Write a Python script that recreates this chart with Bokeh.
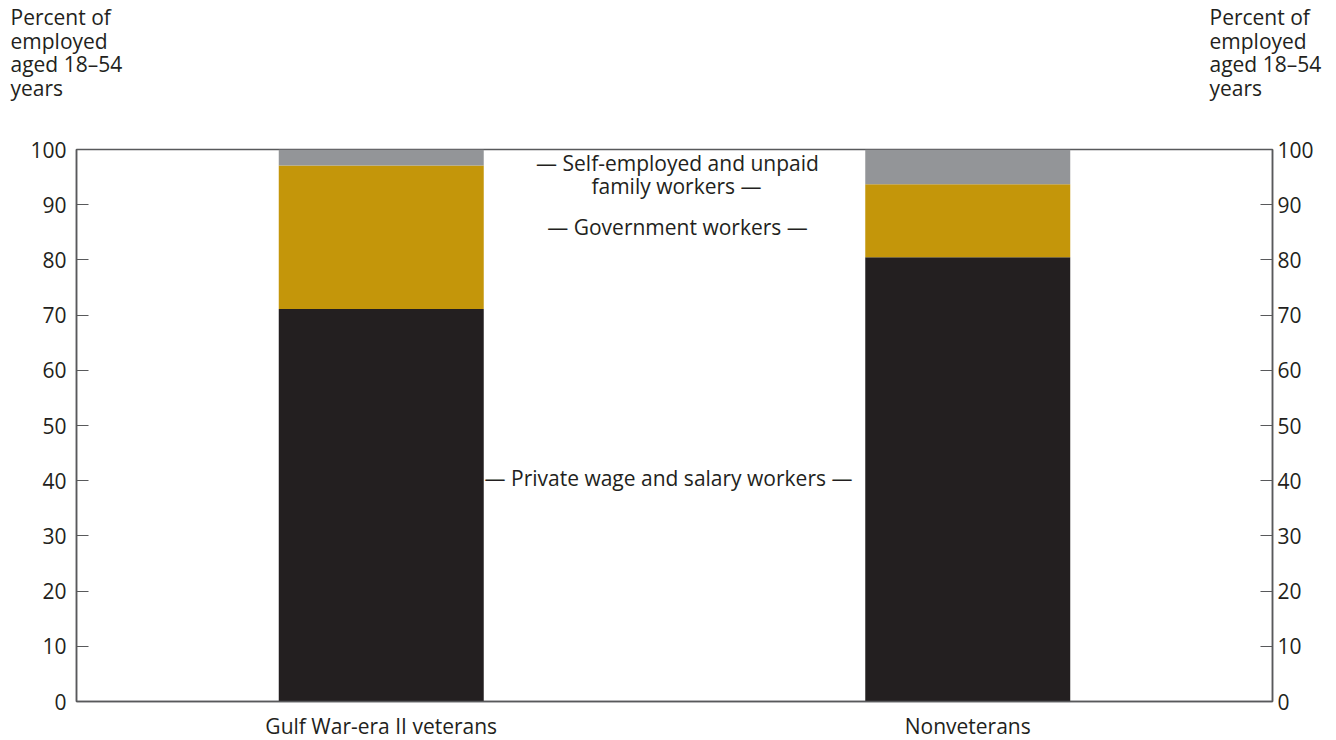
from bokeh.plotting import figure
from bokeh.layouts import column
from bokeh.models import FactorRange, Range1d, LinearAxis, Label, FixedTicker, ColumnDataSource
from bokeh.core.properties import value
from bokeh.embed import file_html
from bokeh.resources import INLINE

groups = ["Gulf War-era II veterans", "Nonveterans"]
private = [71.1, 80.5]
government = [26.0, 13.2]
self_employed = [2.9, 6.3]
y_ticks = [0, 10, 20, 30, 40, 50, 60, 70, 80, 90, 100]
series = ["private", "government", "self_employed"]
colors = ["#231f20", "#c4960a", "#939598"]
title_lines = ["Percent of", "employed", "aged 18\u201354", "years"]

FONT = "Open Sans"
FS = "21px"
TXT = "#231f20"
W = 1336
HEAD_H = 134

# ---- header with the two axis titles ----
head = figure(width=W, height=HEAD_H, x_range=Range1d(0, W), y_range=Range1d(HEAD_H, 0),
              x_axis_type=None, y_axis_type=None, output_backend="svg", toolbar_location=None,
              min_border=0, min_border_left=0, min_border_right=0, min_border_top=0,
              min_border_bottom=0, outline_line_color=None)
if "frame_align" in head.properties():
    head.frame_align = False
head.grid.visible = False
tx, ty, tt = [], [], []
for left in (10, 1209):
    for i, t in enumerate(title_lines):
        tx.append(left)
        ty.append(16.5 + 23.5 * i)
        tt.append(t)
head.text(x=tx, y=ty, text=tt, text_font=value(FONT), text_font_size=FS, text_color=TXT,
          text_align="left", text_baseline="alphabetic")

# ---- main chart ----
src = ColumnDataSource(dict(group=groups, private=private, government=government,
                            self_employed=self_employed))

xr = FactorRange(*groups, range_padding=0.0196, range_padding_units="absolute")
p = figure(width=W, height=608, x_range=xr, y_range=Range1d(0, 100),
           output_backend="svg", toolbar_location=None,
           min_border_left=76, min_border_right=64, min_border_top=15, min_border_bottom=40)
if "frame_align" in p.properties():
    p.frame_align = False
p.vbar_stack(series, x="group", width=0.3495, color=colors, source=src, line_width=0)

p.xgrid.visible = False
p.ygrid.visible = False
p.outline_line_color = "#58595b"
p.outline_line_width = 1.5

for ax in p.yaxis:
    ax.ticker = FixedTicker(ticks=y_ticks)

right = LinearAxis(ticker=FixedTicker(ticks=y_ticks))
p.add_layout(right, "right")

for ax in p.yaxis:
    ax.major_tick_in = 12
    ax.major_tick_out = 0
    ax.minor_tick_in = 0
    ax.minor_tick_out = 0
    ax.axis_line_color = "#58595b"
    ax.axis_line_width = 1.5
    ax.major_tick_line_color = "#58595b"
    ax.major_tick_line_width = 1.2
    ax.major_label_text_font = FONT
    ax.major_label_text_font_size = FS
    ax.major_label_text_color = TXT
p.yaxis[0].major_label_standoff = 10
right.major_label_standoff = 5

xa = p.xaxis[0]
xa.major_tick_in = 0
xa.major_tick_out = 0
xa.axis_line_color = "#58595b"
xa.axis_line_width = 1.5
xa.major_label_text_font = FONT
xa.major_label_text_font_size = FS
xa.major_label_text_color = TXT
xa.major_label_standoff = 10

notes = [
    ("\u2014 Self-employed and unpaid", 97.6, 3),
    ("family workers \u2014", 93.3, 2),
    ("\u2014 Government workers \u2014", 86.0, 3),
    ("\u2014 Private wage and salary workers \u2014", 40.5, -6),
]
for t, yv, xo in notes:
    p.add_layout(Label(x=1.0, y=yv, x_offset=xo, text=t, text_font=FONT,
                       text_font_size=FS, text_color=TXT,
                       text_align="center", text_baseline="middle"))

layout = column(head, p, spacing=0)
open("out.html", "w").write(file_html(layout, INLINE))
